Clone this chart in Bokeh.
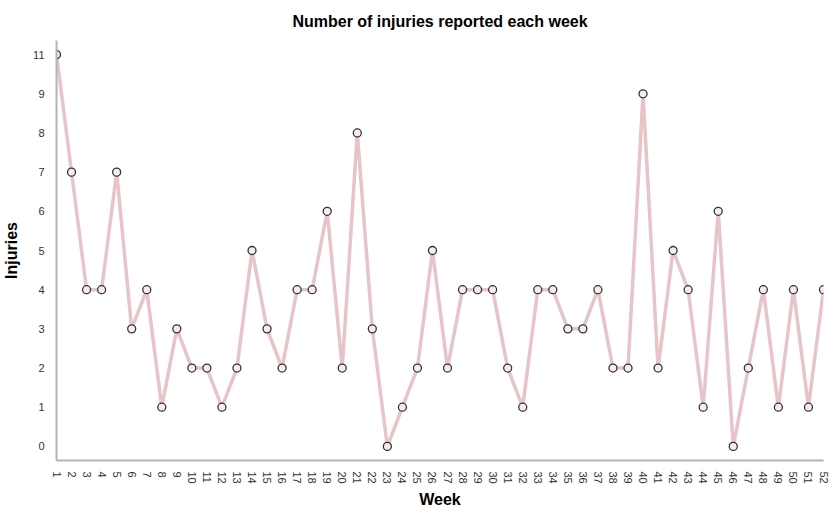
import math
from bokeh.plotting import figure
from bokeh.models import FactorRange, Range1d, FixedTicker, ColumnDataSource, Title
from bokeh.embed import file_html
from bokeh.resources import INLINE

weeks = list(range(1, 53))
injuries = [11, 7, 4, 4, 7, 3, 4, 1, 3, 2,
            2, 1, 2, 5, 3, 2, 4, 4, 6, 2,
            8, 3, 0, 1, 2, 5, 2, 4, 4, 4,
            2, 1, 4, 4, 3, 3, 4, 2, 2, 9,
            2, 5, 4, 1, 6, 0, 2, 4, 1, 4,
            1, 4]
y_categories = ["0", "1", "2", "3", "4", "5", "6", "7", "8", "9", "11"]

src = ColumnDataSource(dict(week=weeks, inj=[str(v) for v in injuries]))

yr = FactorRange(factors=y_categories, range_padding=-0.14, range_padding_units="absolute")
p = figure(width=829, height=509, output_backend="svg", toolbar_location=None,
           x_range=Range1d(1, 52), y_range=yr,
           title="Number of injuries reported each week")
p.min_border_left = 0
p.min_border_right = 6
p.min_border_top = 0
p.min_border_bottom = 0
p.outline_line_color = None
p.background_fill_color = "white"
p.border_fill_color = "white"
p.xgrid.visible = False
p.ygrid.visible = False

p.title.align = "center"
p.title.text_font = "Liberation Sans"
p.title.text_font_size = "16px"
p.title.text_font_style = "bold"
p.title.text_color = "#000000"
p.title.standoff = 21

p.line("week", "inj", source=src, line_color="#e6c1c4", line_width=3.5, line_alpha=0.95)
p.scatter("week", "inj", source=src, size=8, fill_color="#f7eded",
          line_color="#333333", line_width=1.3)

ax = p.xaxis[0]
ax.ticker = FixedTicker(ticks=weeks)
ax.major_label_orientation = -math.pi / 2
ay = p.yaxis[0]
ay.axis_label = "Injuries"
for a in (ax, ay):
    a.axis_line_color = "#b4b4b4"
    a.axis_line_width = 2
    a.major_tick_line_color = None
    a.minor_tick_line_color = None
    a.major_label_text_font = "Liberation Sans"
    a.major_label_text_font_size = "11px"
    a.major_label_text_color = "#333333"
    a.axis_label_text_font = "Liberation Sans"
    a.axis_label_text_font_size = "16px"
    a.axis_label_text_font_style = "bold"
    a.axis_label_text_color = "#000000"
    a.major_label_standoff = 6
ay.axis_label_standoff = 10
ax.major_label_standoff = 5

xtitle = Title(text="Week", align="center", text_font="Liberation Sans",
               text_font_size="16px", text_font_style="bold", text_color="#000000",
               standoff=4)
p.add_layout(xtitle, "below")

open("out.html", "w").write(file_html(p, INLINE))
